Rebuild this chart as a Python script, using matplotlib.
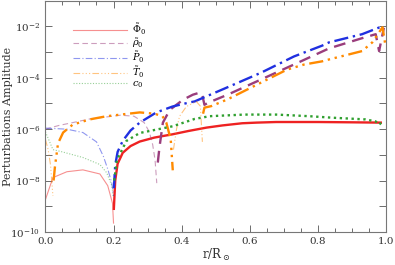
import numpy as np
import matplotlib
matplotlib.use("Agg")
import matplotlib.pyplot as plt
from matplotlib.ticker import FixedLocator, FuncFormatter, MultipleLocator

plt.rcParams['font.family'] = 'DejaVu Serif'
plt.rcParams['mathtext.fontset'] = 'dejavuserif'

# signed amplitudes: negative values are drawn as the thin light branch
phi_x = [0.0, 0.022, 0.063, 0.11, 0.16, 0.183, 0.197, 0.2,
         0.201, 0.205, 0.212, 0.227, 0.25, 0.277, 0.32, 0.373, 0.42, 0.473, 0.52, 0.578, 0.62, 0.678,
         0.8, 0.9, 0.985]
phi_v = [-1.8e-9, -1.3e-8, -2.2e-8, -2.6e-8, -1.8e-8, -6.3e-9, -1.3e-9, -2.2e-10,
         7.9e-10, 1.0e-8, 4.5e-8, 1.2e-7, 2.2e-7, 3.3e-7, 4.7e-7, 6.3e-7, 8.5e-7, 1.15e-6, 1.4e-6, 1.7e-6, 1.8e-6, 1.9e-6,
         1.9e-6, 1.85e-6, 1.8e-6]

rho_x = [0.0, 0.04, 0.08, 0.13, 0.18, 0.22, 0.26, 0.29, 0.305, 0.315, 0.322, 0.327,
         0.33, 0.335, 0.345, 0.365, 0.404, 0.433, 0.455, 0.462, 0.467, 0.48, 0.535, 0.634, 0.73,
         0.833, 0.93, 0.97, 0.98, 0.994]
rho_v = [-1.0e-6, -1.4e-6, -1.8e-6, -2.5e-6, -3.0e-6, -3.5e-6, -3.2e-6, -1.8e-6, -7.9e-7, -2.5e-7, -6.3e-8, -7.9e-9,
         5.0e-8, 2.0e-7, 1.8e-6, 5.6e-6, 1.4e-5, 2.2e-5, 2.7e-5, 1.8e-5, 8.9e-6, 1.1e-5, 2.2e-5, 8.7e-5, 3.3e-4,
         1.4e-3, 3.5e-3, 5.0e-3, 1.1e-3, 8.9e-3]

p_x = [0.0, 0.063, 0.11, 0.15, 0.17, 0.183, 0.195, 0.2,
       0.201, 0.205, 0.212, 0.227, 0.25, 0.277, 0.326, 0.373, 0.423, 0.438, 0.473, 0.535, 0.634, 0.73,
       0.813, 0.833, 0.93, 0.988]
p_v = [-1.1e-6, -1.0e-6, -7.4e-7, -3.2e-7, -8.9e-8, -2.8e-8, -7.9e-9, -2.5e-9,
       5.0e-9, 4.0e-8, 1.3e-7, 3.5e-7, 8.9e-7, 1.8e-6, 4.5e-6, 7.6e-6, 1.1e-5, 1.2e-5, 1.9e-5, 4.3e-5, 1.6e-4, 6.8e-4,
       1.8e-3, 2.4e-3, 5.0e-3, 1.0e-2]

t_x = [0.0, 0.008, 0.015, 0.022,
       0.024, 0.028, 0.037, 0.052, 0.08, 0.13, 0.18, 0.277, 0.32, 0.344, 0.355, 0.368, 0.374,
       0.376, 0.385, 0.394, 0.414, 0.443, 0.455, 0.461,
       0.463, 0.467, 0.487, 0.535, 0.634, 0.71, 0.76, 0.813, 0.833, 0.93, 0.96, 0.98, 0.99, 0.999]
t_v = [-4.0e-7, -1.6e-7, -4.0e-8, -2.5e-9,
       1.0e-8, 3.5e-8, 2.8e-7, 7.4e-7, 1.5e-6, 2.4e-6, 3.2e-6, 4.5e-6, 4.0e-6, 3.2e-6, 1.8e-6, 4.0e-7, 2.5e-8,
       -1.6e-7, -1.0e-6, -3.2e-6, -7.6e-6, -1.2e-5, -7.9e-6, -3.2e-7,
       4.0e-6, 6.9e-6, 7.9e-6, 1.45e-5, 6.6e-5, 2.1e-4, 3.3e-4, 4.4e-4, 5.2e-4, 1.1e-3, 2.4e-3, 5.9e-3, 9.3e-3, 1.7e-3]

c_x = [0.0, 0.022, 0.05, 0.11, 0.16, 0.18, 0.195, 0.199,
       0.202, 0.21, 0.238, 0.277, 0.374, 0.438, 0.482, 0.584, 0.678, 0.775, 0.842, 0.94, 0.97, 0.98, 0.99]
c_v = [-7.9e-7, -1.6e-7, -1.3e-7, -7.9e-8, -4.2e-8, -2.0e-8, -6.3e-9, -2.5e-9,
       1.0e-8, 6.3e-8, 3.5e-7, 7.1e-7, 1.3e-6, 2.5e-6, 3.2e-6, 3.7e-6, 3.7e-6, 3.2e-6, 2.8e-6, 2.4e-6, 2.0e-6, 1.5e-6, 2.0e-6]

labels = [r'$\tilde{\Phi}_0$', r'$\tilde{\rho}_0$', r'$\tilde{P}_0$', r'$\tilde{T}_0$', r'$c_0$']
colors = ['#ee2222', '#9a3d7c', '#2030e0', '#ff8a00', '#30a030']
styles = ['-', (0, (5, 3)), (0, (6, 2, 1, 2)), (0, (6, 2, 1, 2, 1, 2, 1, 2)), (0, (1, 1.5))]
series = [(phi_x, phi_v), (rho_x, rho_v), (p_x, p_v), (t_x, t_v), (c_x, c_v)]

fig = plt.figure(figsize=(3.95, 2.65), dpi=100)
ax = fig.add_axes([0.115, 0.125, 0.862, 0.872])

for (xs, vs), lab, col, ls in zip(series, labels, colors, styles):
    xs = np.array(xs)
    vs = np.array(vs)
    neg = vs < 0
    # split into runs of equal sign
    cuts = np.where(np.diff(neg.astype(int)) != 0)[0] + 1
    first = True
    for seg in np.split(np.arange(len(xs)), cuts):
        if neg[seg[0]]:
            ax.plot(xs[seg], np.abs(vs[seg]), color=col, ls=ls, lw=0.8, alpha=0.5,
                    label=lab if first else None)
        else:
            ax.plot(xs[seg], vs[seg], color=col, ls=ls, lw=1.7)
        first = False

ax.set_yscale('log')
ax.set_xlim(0, 1.0)
ax.set_ylim(1e-10, 1e-1)
ax.xaxis.set_major_locator(MultipleLocator(0.2))
ax.xaxis.set_minor_locator(MultipleLocator(0.05))
ax.yaxis.set_major_locator(FixedLocator([10.0 ** e for e in range(-10, -1)]))
ax.yaxis.set_minor_locator(FixedLocator([]))

def ylab(v, pos):
    e = int(round(np.log10(v)))
    return r'10$^{%d}$' % e if e % 2 == 0 else ''

ax.yaxis.set_major_formatter(FuncFormatter(ylab))
ax.xaxis.set_major_formatter(FuncFormatter(lambda v, p: '%.1f' % v))
ax.tick_params(which='both', direction='in', top=True, right=True, colors='#555555',
               labelcolor='#333333', labelsize=7.5, width=0.6)
ax.tick_params(which='major', length=5)
ax.tick_params(which='minor', length=3)
for s in ax.spines.values():
    s.set_color('#777777')
    s.set_linewidth(0.8)

ax.set_ylabel('Perturbations Amplitude', fontsize=8, color='#333333')
ax.yaxis.set_label_coords(-0.095, 0.5)
ax.set_xlabel(r'r/R$_\odot$', fontsize=8.5, color='#333333', labelpad=1)

leg = ax.legend(loc='upper left', bbox_to_anchor=(0.06, 0.94), frameon=False, fontsize=7,
                handlelength=5.6, handletextpad=0.5, labelspacing=-0.05, borderpad=0.2)

fig.savefig('out.png', dpi=100)
